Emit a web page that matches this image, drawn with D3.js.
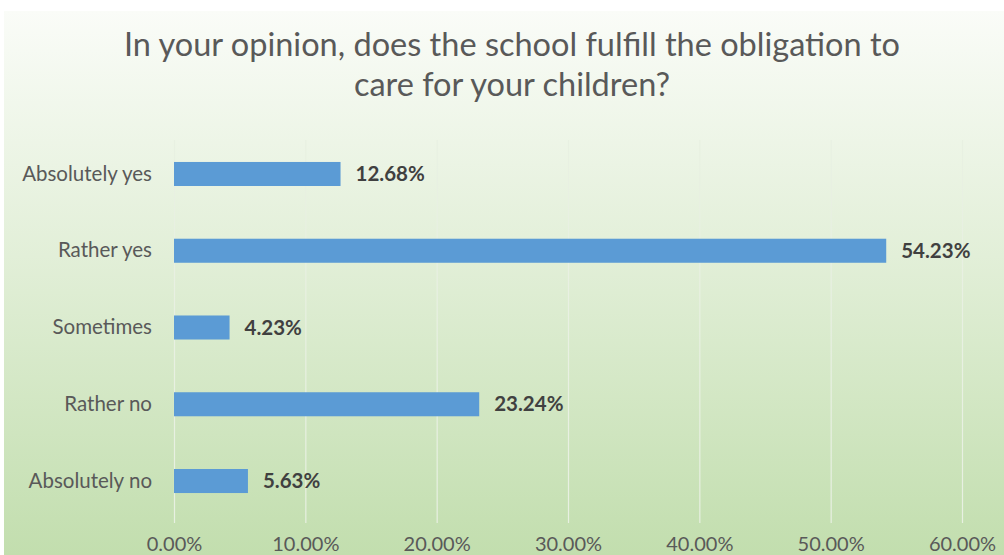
<!DOCTYPE html>
<html><head><meta charset="utf-8">
<script src="https://cdn.jsdelivr.net/npm/d3@7"></script>
<style>body{margin:0;background:#fff}svg{display:block}</style>
</head><body><svg id="c" width="1004" height="555"></svg>
<script>
const categories = ["Absolutely yes","Rather yes","Sometimes","Rather no","Absolutely no"];
const values = [0.1268,0.5423,0.0423,0.2324,0.0563];
const tickValues = [0,0.1,0.2,0.3,0.4,0.5,0.6];
const titleLines = ["In your opinion, does the school fulfill the obligation to","care for your children?"];

const svg = d3.select("#c");
const defs = svg.append("defs");
const g = defs.append("linearGradient").attr("id","bg").attr("x1",0).attr("y1",0).attr("x2",0).attr("y2",1);
g.append("stop").attr("offset","0%").attr("stop-color","#fafcf8");
g.append("stop").attr("offset","45%").attr("stop-color","#e2efd8");
g.append("stop").attr("offset","100%").attr("stop-color","#c2deae");
svg.append("rect").attr("x",4).attr("y",11).attr("width",1000).attr("height",544).attr("fill","url(#bg)");

const font = "Lato, 'Open Sans', sans-serif";
svg.append("g").selectAll("text").data(titleLines).join("text")
  .attr("x",512).attr("y",(d,i)=>56+i*40).attr("text-anchor","middle")
  .attr("font-family",font).attr("font-size",32.5).attr("fill","#595959").text(d=>d);

const x = d3.scaleLinear().domain([0,0.6]).range([174,962]);
const y = d3.scaleBand().domain(categories).range([135.6,519.4]).paddingInner(0.687).paddingOuter(0.3435);

const gridTop = 140, gridBottom = 523;
const ax = svg.append("g").attr("transform",`translate(0,${gridBottom})`)
  .call(d3.axisBottom(x).tickValues(tickValues).tickFormat(d3.format(".2%")).tickSize(-(gridBottom-gridTop)).tickPadding(14));
ax.select(".domain").remove();
ax.selectAll("line").attr("stroke","#e8f0e2").attr("stroke-width",1.2);
ax.selectAll("text").attr("font-family",font).attr("font-size",20).attr("fill","#595959");

const ay = svg.append("g").attr("transform","translate(174,0)")
  .call(d3.axisLeft(y).tickSize(0).tickPadding(22));
ay.select(".domain").remove();
ay.selectAll("text").attr("font-family",font).attr("font-size",20.5).attr("fill","#595959");

svg.append("g").selectAll("rect").data(categories).join("rect")
  .attr("x",x(0)).attr("y",d=>y(d)).attr("height",y.bandwidth())
  .attr("width",(d,i)=>x(values[i])-x(0)).attr("fill","#5b9bd5");

svg.append("g").selectAll("text").data(categories).join("text")
  .attr("x",(d,i)=>x(values[i])+15).attr("y",d=>y(d)+y.bandwidth()/2).attr("dy","0.35em")
  .attr("font-family",font).attr("font-size",20.5).attr("font-weight","bold").attr("fill","#404040")
  .text((d,i)=>d3.format(".2%")(values[i]));
</script></body></html>
